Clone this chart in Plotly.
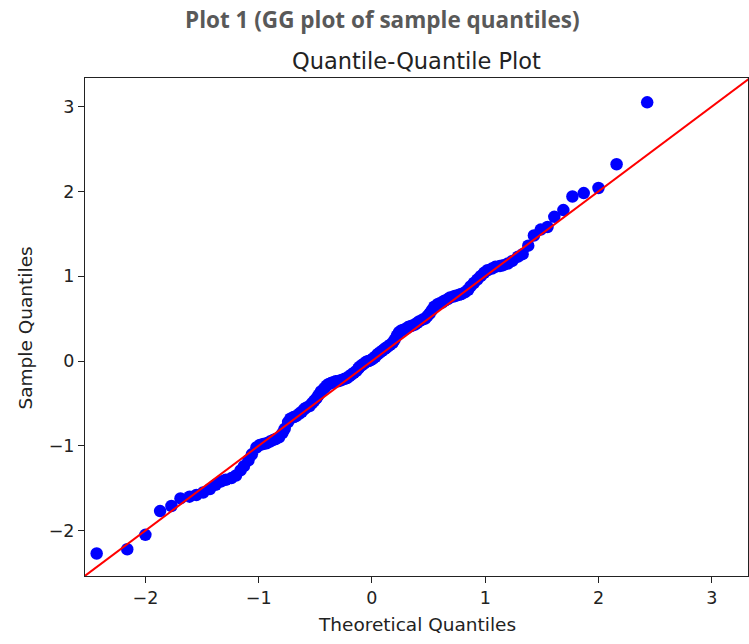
import plotly.graph_objects as go

# Theoretical quantiles (x) and sample quantiles (y)
theoretical_neg = [-2.43, -2.16, -2.00, -1.87, -1.77, -1.69, -1.61, -1.55, -1.49, -1.43,
                   -1.38, -1.33, -1.29, -1.24, -1.20, -1.16, -1.13, -1.09, -1.06, -1.02,
                   -0.99, -0.96, -0.93, -0.90, -0.87, -0.85, -0.82, -0.79, -0.77, -0.74,
                   -0.72, -0.69, -0.67, -0.64, -0.62, -0.60, -0.58, -0.55, -0.53, -0.51,
                   -0.49, -0.47, -0.45, -0.42, -0.40, -0.38, -0.36, -0.34, -0.32, -0.30,
                   -0.28, -0.26, -0.24, -0.22, -0.20, -0.18, -0.16, -0.14, -0.12, -0.11,
                   -0.09, -0.07, -0.05, -0.03, -0.01]
sample_neg = [-2.27, -2.22, -2.05, -1.77, -1.71, -1.62, -1.60, -1.58, -1.55, -1.51,
              -1.46, -1.42, -1.40, -1.38, -1.35, -1.29, -1.24, -1.17, -1.10, -1.02,
              -0.99, -0.98, -0.97, -0.95, -0.93, -0.92, -0.90, -0.85, -0.80, -0.72,
              -0.68, -0.66, -0.65, -0.62, -0.60, -0.57, -0.55, -0.53, -0.50, -0.47,
              -0.44, -0.40, -0.36, -0.32, -0.29, -0.27, -0.26, -0.25, -0.24, -0.24,
              -0.23, -0.22, -0.21, -0.20, -0.18, -0.16, -0.14, -0.12, -0.09, -0.07,
              -0.05, -0.03, -0.01, 0.00, 0.01]
theoretical_pos = [0.01, 0.03, 0.05, 0.07, 0.09, 0.11, 0.12, 0.14, 0.16, 0.18,
                   0.20, 0.22, 0.24, 0.26, 0.28, 0.30, 0.32, 0.34, 0.36, 0.38,
                   0.40, 0.42, 0.45, 0.47, 0.49, 0.51, 0.53, 0.55, 0.58, 0.60,
                   0.62, 0.64, 0.67, 0.69, 0.72, 0.74, 0.77, 0.79, 0.82, 0.85,
                   0.87, 0.90, 0.93, 0.96, 0.99, 1.02, 1.06, 1.09, 1.13, 1.16,
                   1.20, 1.24, 1.29, 1.33, 1.38, 1.43, 1.49, 1.55, 1.61, 1.69,
                   1.77, 1.87, 2.00, 2.16, 2.43]
sample_pos = [0.03, 0.05, 0.08, 0.10, 0.12, 0.14, 0.15, 0.17, 0.19, 0.21,
              0.25, 0.30, 0.34, 0.36, 0.37, 0.38, 0.40, 0.41, 0.42, 0.43,
              0.45, 0.47, 0.49, 0.50, 0.53, 0.56, 0.60, 0.64, 0.67, 0.68,
              0.69, 0.71, 0.73, 0.75, 0.76, 0.77, 0.78, 0.79, 0.81, 0.84,
              0.88, 0.92, 0.96, 1.00, 1.04, 1.07, 1.09, 1.11, 1.12, 1.13,
              1.15, 1.18, 1.23, 1.26, 1.36, 1.48, 1.55, 1.58, 1.70, 1.78,
              1.94, 1.98, 2.04, 2.32, 3.05]

theoretical = theoretical_neg + theoretical_pos
sample = sample_neg + sample_pos

# Reference line (45-degree style fit)
fit_slope = 1.0
fit_intercept = 0.0

x_range = [-2.533, 3.32]
y_range = [-2.535, 3.337]
tick_vals = [-2, -1, 0, 1, 2, 3]
tick_text = ["\u22122", "\u22121", "0", "1", "2", "3"]

line_x = [x_range[0] - 0.2, x_range[1] + 0.2]
line_y = [fit_intercept + fit_slope * v for v in line_x]

MPL_FONT = "DejaVu Sans, Verdana, sans-serif"

fig = go.Figure()
fig.add_trace(go.Scatter(x=theoretical, y=sample, mode="markers",
                         marker=dict(color="#0000ff", size=12.5, line=dict(width=0)),
                         showlegend=False, cliponaxis=True))
fig.add_trace(go.Scatter(x=line_x, y=line_y, mode="lines",
                         line=dict(color="#ff0000", width=2),
                         showlegend=False))

axis_common = dict(showgrid=False, zeroline=False, showline=True, linecolor="#222222",
                   linewidth=1, mirror=True, ticks="outside", ticklen=6, tickwidth=1,
                   tickcolor="#222222", tickfont=dict(family=MPL_FONT, size=17.5, color="#222222"))

fig.update_xaxes(range=x_range, tickvals=tick_vals, ticktext=tick_text, **axis_common)
fig.update_yaxes(range=y_range, tickvals=tick_vals, ticktext=tick_text, **axis_common)

fig.update_layout(
    width=749, height=644,
    margin=dict(l=85, r=1, t=78, b=68),
    paper_bgcolor="white", plot_bgcolor="white",
    font=dict(family=MPL_FONT),
    annotations=[
        dict(text="<b>Plot 1 (GG plot of sample quantiles)</b>", xref="paper", yref="paper",
             x=(382 - 85) / 663, y=1 + (78 - 20) / 498, xanchor="center", yanchor="middle",
             showarrow=False, font=dict(family="Open Sans, sans-serif", size=22.5, color="#595959")),
        dict(text="Quantile-Quantile Plot", xref="paper", yref="paper",
             x=0.5, y=1 + (78 - 61) / 498, xanchor="center", yanchor="middle",
             showarrow=False, font=dict(family=MPL_FONT, size=22.5, color="#222222")),
        dict(text="Theoretical Quantiles", xref="paper", yref="paper",
             x=0.5, y=-(624 - 576) / 498, xanchor="center", yanchor="middle",
             showarrow=False, font=dict(family=MPL_FONT, size=18.5, color="#222222")),
        dict(text="Sample Quantiles", xref="paper", yref="paper",
             x=-(85 - 25) / 663, y=(576 - 328.5) / 498, xanchor="center", yanchor="middle",
             textangle=-90,
             showarrow=False, font=dict(family=MPL_FONT, size=18.5, color="#222222")),
    ],
)

fig.write_html("out.html")
